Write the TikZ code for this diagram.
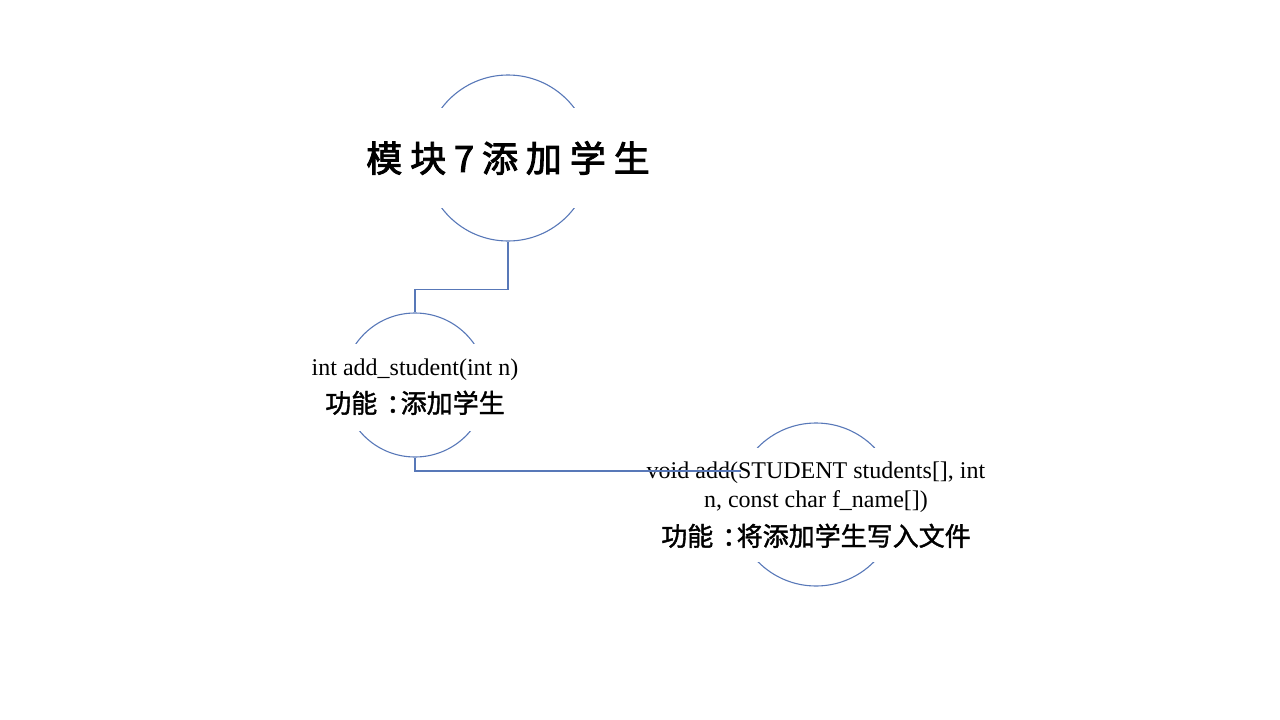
\documentclass[tikz,border=0pt]{standalone}
\usepackage{fontspec}
\setmainfont{Liberation Serif}
\newfontfamily\cjk[FakeBold=1.5]{Noto Sans CJK SC}
\newfontfamily\cjktitle[LetterSpace=22,FakeBold=2.5]{Noto Sans CJK SC}
\usetikzlibrary{positioning}

\definecolor{ringblue}{RGB}{88,120,184}

\tikzset{
  ring/.style={circle, draw=ringblue, line width=1.1pt, inner sep=0pt},
  cover/.style={fill=white, inner sep=0pt, align=center,
    font=\fontsize{24}{29}\selectfont},
  link/.style={draw=ringblue, line width=1.3pt},
}
\newcommand\gongneng{\cjk\fontsize{26}{30}\selectfont 功能\hspace{0.35em}：\hspace{-0.45em}}

\begin{document}
\begin{tikzpicture}[x=1pt, y=-1pt]
  \useasboundingbox (0,0) rectangle (1280,720);
  % circles
  \node[ring, minimum size=166pt] (m7) at (508,158) {};
  \node[ring, minimum size=144pt] (f1) at (415,385) {};
  \node[ring, minimum size=163pt] (f2) at (816,504.5) {};
  % texts on white boxes
  \node[cover, minimum width=290pt, minimum height=100pt] (m7t) at (m7)
    {\cjktitle\fontsize{36}{40}\selectfont 模块7添加学生};
  \node[cover, minimum width=240pt, minimum height=87pt] (f1t) at (415,387)
    {int add\_student(int n)\\[8pt]
     {\gongneng 添加学生}};
  \node[cover, minimum width=360pt, minimum height=114pt] (f2t) at (816,505)
    {void add(STUDENT students[], int\\
     n, const char f\_name[])\\[9pt]
     {\gongneng 将添加学生写入文件}};
  % connectors
  \draw[link] (m7.south) -- ++(0,48) -| (f1.north);
  \draw[link] (f1.south) |- (f2.156);
\end{tikzpicture}
\end{document}
